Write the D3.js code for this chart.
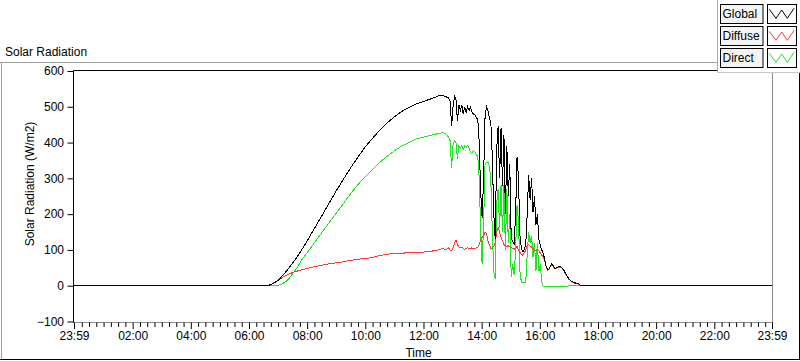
<!DOCTYPE html>
<html><head><meta charset="utf-8">
<script src="https://cdn.jsdelivr.net/npm/d3@7"></script>
<style>
body{margin:0;background:#fff}
svg{display:block;font-family:"Liberation Sans",Arial,sans-serif}
</style>
</head><body>
<svg id="c" width="800" height="361"></svg>
<script>
// ---------------- data ----------------
const seriesNames = ["Global", "Diffuse", "Direct"];
const seriesColors = ["#000000", "#ff3838", "#1ee61e"];

// time of day in minutes after midnight (-1 = 23:59 of the previous day)
const minutes = [
  -1,390,400,405,410,420,430,440,450,460,470,480,495,510,525,540,555,570,585,600,615,630,645,660,675,690,705,720,735,750,760,766,
  772,775,778,781,784,787,790,793,796,799,802,805,808,811,814,817,820,823,826,829,832,835,838,841,844,847,850,853,856,859,
  862,865,868,871,874,877,880,883,886,889,892,895,898,901,904,907,910,913,916,919,922,925,928,931,934,937,940,943,946,949,
  952,955,958,961,964,967,970,973,976,979,982,985,988,991,994,997,1000,
  1005,1010,1015,1020,1025,1030,1035,1040,1046,1439
];
const globalVals = [
  0,0,1,3,6,15,29,45,63,82,103,125,160,195,230,265,298,330,360,388,412,435,455,472,487,498,508,515,522,530,532,528,
  525,515,445,500,530,520,460,505,490,505,480,500,485,500,490,498,485,480,478,470,465,400,260,190,300,470,500,490,470,455,
  360,200,130,380,445,300,440,280,420,200,390,250,340,130,125,115,200,360,300,140,105,95,100,115,200,310,240,300,205,250,
  170,200,130,112,100,90,75,55,45,47,55,62,55,48,50,52,53,
  52,42,30,19,13,9,7,5,0,0
];
const diffuseVals = [
  0,0,1,3,7,15,24,31,37,41,45,48,53,57,61,64,67,71,74,76,79,84,88,90,91,92,93,94,96,100,104,100,
  106,100,98,105,120,128,115,108,106,108,104,102,104,106,103,104,106,103,104,106,108,115,130,135,140,150,145,125,115,104,
  106,110,120,150,163,150,135,125,115,112,110,112,108,106,104,102,104,110,100,93,88,85,92,100,112,115,110,108,102,98,
  100,102,98,92,85,80,70,54,44,46,54,61,54,47,49,51,52,
  51,41,29,18,12,8,6,4,0,0
];
const directVals = [
  0,0,0,0,0,1,6,16,33,52,75,92,120,148,175,203,230,258,283,305,325,345,362,377,390,400,410,415,420,425,428,425,
  415,405,330,395,405,400,355,390,385,392,380,390,387,392,385,372,370,378,375,365,362,300,150,60,170,340,345,345,336,290,
  150,40,20,230,270,160,280,150,280,100,270,120,200,25,60,30,100,225,180,40,9,9,9,10,90,150,120,140,80,120,
  40,120,40,60,10,-3,-3,-3,-3,-3,-3,-3,-3,-3,-3,-3,-3,
  -3,-3,-3,0,0,0,0,0,0,0
];

const yTicks = [-100, 0, 100, 200, 300, 400, 500, 600];
const xTickMinutes = [-1, 120, 240, 360, 480, 600, 720, 840, 960, 1080, 1200, 1320, 1439];
const xTickLabels = ["23:59","02:00","04:00","06:00","08:00","10:00","12:00","14:00","16:00","18:00","20:00","22:00","23:59"];
const xMinorMinutes = [15,30,45,60,75,90,105,135,150,165,180,195,210,225,255,270,285,300,315,330,345,375,390,405,420,435,450,465,
  495,510,525,540,555,570,585,615,630,645,660,675,690,705,735,750,765,780,795,810,825,855,870,885,900,915,930,945,
  975,990,1005,1020,1035,1050,1065,1095,1110,1125,1140,1155,1170,1185,1215,1230,1245,1260,1275,1290,1305,
  1335,1350,1365,1380,1395,1410,1425];

const titleText = "Solar Radiation";
const yTitle = "Solar Radiation (W/m2)";
const xTitle = "Time";

// ---------------- drawing ----------------
const svg = d3.select("#c");
const L = 73.5, R = 772.5, T = 70.5, B = 322.5;

const x = d3.scaleLinear().domain([-1, 1439]).range([74, 772]);
const y = d3.scaleLinear().domain([-100, 600]).range([321.5, 71]);

// outer frame
svg.append("rect").attr("width",800).attr("height",361).attr("fill","#fff");
svg.append("line").attr("x1",0).attr("x2",717).attr("y1",62.5).attr("y2",62.5).attr("stroke","#a0a0a0");
svg.append("line").attr("x1",1.5).attr("x2",1.5).attr("y1",62).attr("y2",360).attr("stroke","#a0a0a0");
svg.append("line").attr("x1",0).attr("x2",800).attr("y1",359.5).attr("y2",359.5).attr("stroke","#000");
svg.append("line").attr("x1",799.5).attr("x2",799.5).attr("y1",72).attr("y2",360).attr("stroke","#000");

// title
svg.append("text").attr("x",5).attr("y",55.5).attr("font-size",12).attr("fill","#000").text(titleText);

// clip
svg.append("clipPath").attr("id","pc").append("rect")
  .attr("x",L).attr("y",T).attr("width",R-L).attr("height",B-T);

// plot borders
svg.append("line").attr("x1",R).attr("x2",R).attr("y1",T).attr("y2",B).attr("stroke","#8c8c8c");
svg.append("line").attr("x1",L).attr("x2",R+0.5).attr("y1",B).attr("y2",B).attr("stroke","#8c8c8c");
svg.append("line").attr("x1",L).attr("x2",R).attr("y1",T).attr("y2",T).attr("stroke","#000");

// series lines (Direct, Diffuse, then Global on top)
const seriesVals = [globalVals, diffuseVals, directVals];
const lineGen = vals => d3.line().x((d,i)=>x(minutes[i])).y((d)=>y(d))(vals);
const gLines = svg.append("g").attr("clip-path","url(#pc)");
[2,1,0].forEach(k=>{
  gLines.append("path").attr("d", lineGen(seriesVals[k]))
    .attr("fill","none").attr("stroke",seriesColors[k]).attr("stroke-width",1)
    .attr("shape-rendering","crispEdges");
});

// y axis
const yAxis = d3.axisLeft(y).tickValues(yTicks).tickSize(6).tickPadding(3.5).tickFormat(d3.format("d"));
const gy = svg.append("g").attr("transform",`translate(${L},0)`).call(yAxis);
gy.select(".domain").attr("stroke","#000").attr("d",`M0,${T}V${B}`);
gy.selectAll(".tick line").attr("stroke","#000");
gy.selectAll("text").attr("font-size",12).attr("font-family","Liberation Sans, Arial, sans-serif").attr("fill","#000");

// x axis major
const xAxis = d3.axisBottom(x).tickValues(xTickMinutes).tickSize(6.5)
  .tickFormat((d,i)=>xTickLabels[i]);
const gx = svg.append("g").attr("transform",`translate(0,${B})`).call(xAxis);
gx.select(".domain").remove();
gx.selectAll(".tick line").attr("stroke","#000");
gx.selectAll("text").attr("font-size",12).attr("font-family","Liberation Sans, Arial, sans-serif")
  .attr("fill","#000").attr("y",17.5).attr("dy",0);
// x axis minor
const xMinor = d3.axisBottom(x).tickValues(xMinorMinutes).tickSize(4.5).tickFormat("");
const gxm = svg.append("g").attr("transform",`translate(0,${B})`).call(xMinor);
gxm.select(".domain").remove();
gxm.selectAll(".tick line").attr("stroke","#000");

// axis titles
svg.append("text").attr("transform","translate(33.5,184) rotate(-90)").attr("text-anchor","middle")
  .attr("font-size",12).attr("fill","#000").text(yTitle);
svg.append("text").attr("x",418.5).attr("y",357).attr("text-anchor","middle")
  .attr("font-size",12).attr("fill","#000").text(xTitle);

// legend panel
const lg = svg.append("g");
lg.append("rect").attr("x",717).attr("y",0).attr("width",83).attr("height",72).attr("fill","#fff");
lg.append("line").attr("x1",717.5).attr("x2",717.5).attr("y1",0).attr("y2",72.5).attr("stroke","#a8a8a8");
lg.append("line").attr("x1",717.5).attr("x2",800).attr("y1",72.5).attr("y2",72.5).attr("stroke","#c8c8c8");
seriesNames.forEach((name,i)=>{
  const y0 = 4.5 + i*22;
  lg.append("rect").attr("x",720.5).attr("y",y0).attr("width",42.5).attr("height",19)
    .attr("fill","#f4f4f4").attr("stroke","#000");
  lg.append("text").attr("x",722.5).attr("y",y0+13.5).attr("font-size",12).attr("fill","#000").text(name);
  lg.append("rect").attr("x",767.5).attr("y",y0).attr("width",29).attr("height",19)
    .attr("fill","#fff").attr("stroke","#000");
  const zz = [[1.8,4.8],[8.5,13.8],[14.2,5.5],[19.8,13.8],[26.5,3.8]];
  lg.append("path").attr("d", d3.line()(zz.map(p=>[767.5+p[0], y0+p[1]])))
    .attr("fill","none").attr("stroke",seriesColors[i]).attr("stroke-width",1);
});
</script>
</body></html>
